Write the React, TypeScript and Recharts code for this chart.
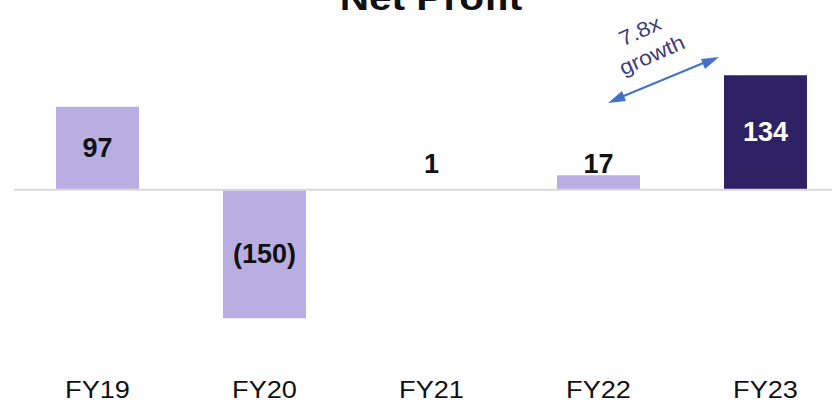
import React from "react";
import { BarChart, Bar, XAxis, YAxis, Cell, LabelList, ReferenceLine } from "recharts";

const categories = ["FY19", "FY20", "FY21", "FY22", "FY23"];
const netProfit = [97, -150, 1, 17, 134];
const highlight = [false, false, false, false, true];
const chartTitle = "Net Profit";
const growthLines = ["7.8x", "growth"];

const data = categories.map((c, i) => ({ name: c, value: netProfit[i], hi: highlight[i] }));

const LIGHT = "#b8aee2";
const DARK = "#2f2264";
const FONT = "'Liberation Sans', Arial, sans-serif";

const fmt = (v: number) => (v < 0 ? `(${Math.abs(v)})` : `${v}`);

const Tick = (props: any) => {
  const { x, y, payload } = props;
  return (
    <g transform={`translate(${x},${y + 73}) scale(1.18,1)`}>
      <text x={0} y={0} textAnchor="middle" fontSize={23} fontFamily={FONT} fill="#111">
        {payload.value}
      </text>
    </g>
  );
};

const BarLabel = (props: any) => {
  const { x, y, width, height, value, index } = props;
  const zero = y + height;
  const small = Math.abs(value) < 30;
  const cy = small ? zero - 26 : y + height / 2;
  const fill = highlight[index] ? "#ffffff" : "#111111";
  return (
    <text
      x={x + width / 2}
      y={cy}
      textAnchor="middle"
      dominantBaseline="central"
      fontSize={27}
      fontWeight="bold"
      fontFamily={FONT}
      fill={fill}
    >
      {fmt(value)}
    </text>
  );
};

export default function App() {
  return (
    <div style={{ position: "absolute", left: 0, top: 0, width: 832, height: 405, overflow: "hidden", background: "#fff" }}>
      <BarChart
        width={850}
        height={405}
        data={data}
        margin={{ top: 70, right: 1, bottom: 0, left: 14 }}
        barSize={83}
      >
        <XAxis
          dataKey="name"
          axisLine={false}
          tickLine={false}
          tickSize={0}
          tickMargin={0}
          height={80}
          tick={<Tick />}
          interval={0}
        />
        <YAxis hide domain={[-158, 140]} />
        <ReferenceLine y={0} stroke="#d9d9d9" strokeWidth={2} />
        <Bar dataKey="value" isAnimationActive={false}>
          {data.map((d, i) => (
            <Cell key={i} fill={d.hi ? DARK : LIGHT} />
          ))}
          <LabelList dataKey="value" content={<BarLabel />} />
        </Bar>
      </BarChart>
      <svg
        width={832}
        height={405}
        style={{ position: "absolute", left: 0, top: 0, pointerEvents: "none" }}
      >
        <g transform="translate(431,10) scale(1.16,1)">
          <text x={0} y={0} textAnchor="middle" fontSize={35} fontWeight="bold" fontFamily={FONT} fill="#111">
            {chartTitle}
          </text>
        </g>
        <line x1={614} y1={100} x2={713} y2={59} stroke="#4472c4" strokeWidth={2} />
        <path d="M608,103 L622,91 L626,101 z" fill="#4472c4" />
        <path d="M719,57 L701,59 L705,69 z" fill="#4472c4" />
        <g transform="translate(640,31) rotate(-24) scale(1.1,1)">
          <text x={0} y={0} textAnchor="middle" dominantBaseline="central" fontSize={21} fontFamily={FONT} fill="#433b7c">
            {growthLines[0]}
          </text>
        </g>
        <g transform="translate(652,55) rotate(-24) scale(1.1,1)">
          <text x={0} y={0} textAnchor="middle" dominantBaseline="central" fontSize={21} fontFamily={FONT} fill="#433b7c">
            {growthLines[1]}
          </text>
        </g>
      </svg>
    </div>
  );
}
